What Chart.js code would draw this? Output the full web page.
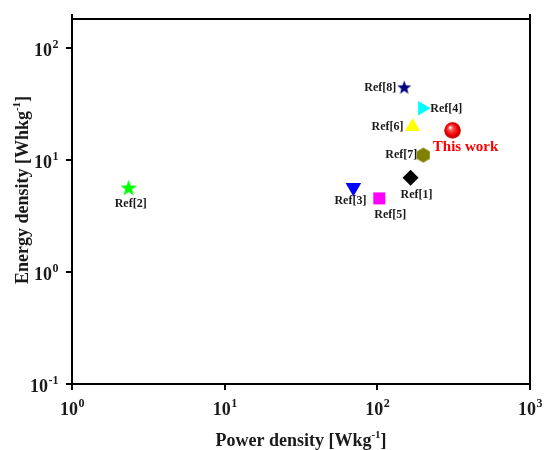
<!DOCTYPE html>
<html>
<head>
<meta charset="utf-8">
<script src="https://cdn.jsdelivr.net/npm/chart.js@4"></script>
<style>
  html, body { margin: 0; padding: 0; background: #fff; }
  #wrap { width: 544px; height: 450px; }
</style>
</head>
<body>
<div id="wrap"><canvas id="c"></canvas></div>
<script>
// Ragone plot: energy density vs power density, log-log
const names = ['Ref[1]', 'Ref[2]', 'Ref[3]', 'Ref[4]', 'Ref[5]', 'Ref[6]', 'Ref[7]', 'Ref[8]', 'This work'];
const powerDensity = [165, 2.35, 69.7, 197, 103, 170, 200, 150, 311];   // W/kg
const energyDensity = [6.92, 5.55, 5.67, 28.8, 4.52, 19.7, 11.0, 43.8, 18.3]; // Wh/kg
const xTicks = [1, 10, 100, 1000];
const yTicks = [0.1, 1, 10, 100];

const FONT = "'Liberation Serif', 'Times New Roman', serif";
Chart.defaults.font.family = FONT;

// label placement relative to each marker (px), kept apart from the data
const labelPos = [
  { dx: 6, dy: 17, align: 'center' },
  { dx: 2, dy: 15, align: 'center' },
  { dx: -3, dy: 14, align: 'center' },
  { dx: 8, dy: 1, align: 'left' },
  { dx: 11, dy: 16, align: 'center' },
  { dx: -9, dy: 0, align: 'right' },
  { dx: -6, dy: 0, align: 'right' },
  { dx: -8, dy: 0, align: 'right' },
  { dx: 13, dy: 17, align: 'center' },
];

// small canvases for the markers Chart.js has no built-in style for
function sprite(size, draw) {
  const c = document.createElement('canvas');
  c.width = c.height = size;
  draw(c.getContext('2d'), size / 2);
  return c;
}
function star(color, R) {
  return sprite(Math.ceil(R * 2 + 2), (g, m) => {
    const r = R * 0.42;
    g.beginPath();
    for (let i = 0; i < 10; i++) {
      const a = -Math.PI / 2 + i * Math.PI / 5, rr = i % 2 ? r : R;
      g.lineTo(m + rr * Math.cos(a), m + rr * Math.sin(a));
    }
    g.closePath(); g.fillStyle = color; g.fill();
  });
}
function hexagon(color, R) {
  return sprite(Math.ceil(R * 2 + 2), (g, m) => {
    g.beginPath();
    for (let i = 0; i < 6; i++) {
      const a = -Math.PI / 2 + i * Math.PI / 3;
      g.lineTo(m + R * Math.cos(a), m + R * Math.sin(a));
    }
    g.closePath(); g.fillStyle = color; g.fill();
  });
}
function sphere(R) {
  return sprite(Math.ceil(R * 2 + 2), (g, m) => {
    const gr = g.createRadialGradient(m - R * 0.3, m - R * 0.35, R * 0.05, m, m, R);
    gr.addColorStop(0, '#ffffff');
    gr.addColorStop(0.25, '#ff5050');
    gr.addColorStop(0.7, '#ee0000');
    gr.addColorStop(1, '#b00000');
    g.beginPath(); g.arc(m, m, R, 0, Math.PI * 2);
    g.fillStyle = gr; g.fill();
  });
}

const colors = ['#000000', '#00ff00', '#0000ff', '#00ffff', '#ff00ff', '#ffff00', '#808000', '#000080', '#ff0000'];
const styles = ['rectRot', star('#00ff00', 8.5), 'triangle', 'triangle', 'rect', 'triangle',
  hexagon('#808000', 7.5), star('#000080', 7.3), sphere(8.3)];
const rotations = [0, 0, 180, 90, 0, 0, 0, 0, 0];
const radii = [8, 9, 9, 8.3, 8.5, 8.7, 8, 8, 8];

const frame = {
  id: 'frame',
  afterDraw(chart) {
    const { ctx, chartArea: a } = chart;
    ctx.save();
    ctx.strokeStyle = '#000'; ctx.lineWidth = 2;
    ctx.beginPath();
    ctx.moveTo(a.left, a.top); ctx.lineTo(a.right, a.top);
    ctx.moveTo(a.right, a.top - 5); ctx.lineTo(a.right, a.bottom);
    ctx.moveTo(a.left, a.top - 5); ctx.lineTo(a.left, a.top);
    ctx.stroke();
    ctx.restore();
  },
};

// power-of-ten tick labels and axis titles with raised exponents
function powText(ctx, base, exp, x, y, align, big, small, rise) {
  ctx.font = `bold ${big}px ${FONT}`;
  const wb = ctx.measureText(base).width;
  ctx.font = `bold ${small}px ${FONT}`;
  const we = ctx.measureText(exp).width;
  let x0 = align === 'center' ? x - (wb + we) / 2 : align === 'right' ? x - wb - we : x;
  ctx.textAlign = 'left'; ctx.textBaseline = 'alphabetic';
  ctx.font = `bold ${big}px ${FONT}`; ctx.fillText(base, x0, y);
  ctx.font = `bold ${small}px ${FONT}`; ctx.fillText(exp, x0 + wb + 0.5, y - rise);
}
function titleText(ctx, parts, x, y) {
  // parts: [text, sup, text]; centered on x
  const big = `bold 18px ${FONT}`, small = `bold 11px ${FONT}`;
  ctx.font = big; const w1 = ctx.measureText(parts[0]).width, w3 = ctx.measureText(parts[2]).width;
  ctx.font = small; const w2 = ctx.measureText(parts[1]).width;
  let x0 = x - (w1 + w2 + w3) / 2;
  ctx.textAlign = 'left'; ctx.textBaseline = 'alphabetic';
  ctx.font = big; ctx.fillText(parts[0], x0, y);
  ctx.font = small; ctx.fillText(parts[1], x0 + w1, y - 8);
  ctx.font = big; ctx.fillText(parts[2], x0 + w1 + w2, y);
}
const axisText = {
  id: 'axisText',
  afterDraw(chart) {
    const { ctx, chartArea: a, scales: { x, y } } = chart;
    ctx.save(); ctx.fillStyle = '#1a1a1a';
    x.ticks.forEach(t => {
      const e = Math.round(Math.log10(t.value));
      powText(ctx, '10', String(e), x.getPixelForValue(t.value), 415, 'center', 18, 12, 8);
    });
    y.ticks.forEach(t => {
      const e = Math.round(Math.log10(t.value));
      powText(ctx, '10', String(e), 58, y.getPixelForValue(t.value) + 8, 'right', 18, 12, 8);
    });
    titleText(ctx, ['Power density [Wkg', '-1', ']'], (a.left + a.right) / 2, 446);
    ctx.translate(28, 190); ctx.rotate(-Math.PI / 2);
    titleText(ctx, ['Energy density [Whkg', '-1', ']'], 0, 0);
    ctx.restore();
  },
};

const pointLabels = {
  id: 'pointLabels',
  afterDatasetsDraw(chart) {
    const { ctx } = chart, meta = chart.getDatasetMeta(0);
    ctx.save(); ctx.textBaseline = 'middle';
    meta.data.forEach((p, i) => {
      const o = labelPos[i], mine = names[i] === 'This work';
      ctx.font = mine ? `bold 15px ${FONT}` : `bold 12px ${FONT}`;
      ctx.fillStyle = mine ? '#ff0000' : '#1a1a1a';
      ctx.textAlign = o.align;
      ctx.fillText(names[i], p.x + o.dx, p.y + o.dy);
    });
    ctx.restore();
  },
};

const axisCommon = {
  type: 'logarithmic',
  ticks: { display: false },
  grid: { display: true, drawOnChartArea: false, drawTicks: true, tickLength: 6, color: '#000', lineWidth: 2 },
  border: { display: true, color: '#000', width: 2 },
};

new Chart(document.getElementById('c'), {
  type: 'scatter',
  data: {
    datasets: [{
      data: powerDensity.map((p, i) => ({ x: p, y: energyDensity[i] })),
      pointStyle: styles,
      pointRotation: rotations,
      pointRadius: radii,
      pointHoverRadius: radii,
      backgroundColor: colors,
      borderColor: colors,
      borderWidth: 0,
    }],
  },
  options: {
    responsive: true, maintainAspectRatio: false, animation: false,
    layout: { padding: { left: 66, right: 14, top: 19, bottom: 60 } },
    scales: {
      x: Object.assign({}, axisCommon, { min: 1, max: 1000,
        afterBuildTicks: s => { s.ticks = xTicks.map(v => ({ value: v, major: true })); } }),
      y: Object.assign({}, axisCommon, { min: 0.1, max: 180,
        afterBuildTicks: s => { s.ticks = yTicks.map(v => ({ value: v, major: true })); } }),
    },
    plugins: { legend: { display: false }, tooltip: { enabled: false } },
  },
  plugins: [frame, pointLabels, axisText],
});
</script>
</body>
</html>
